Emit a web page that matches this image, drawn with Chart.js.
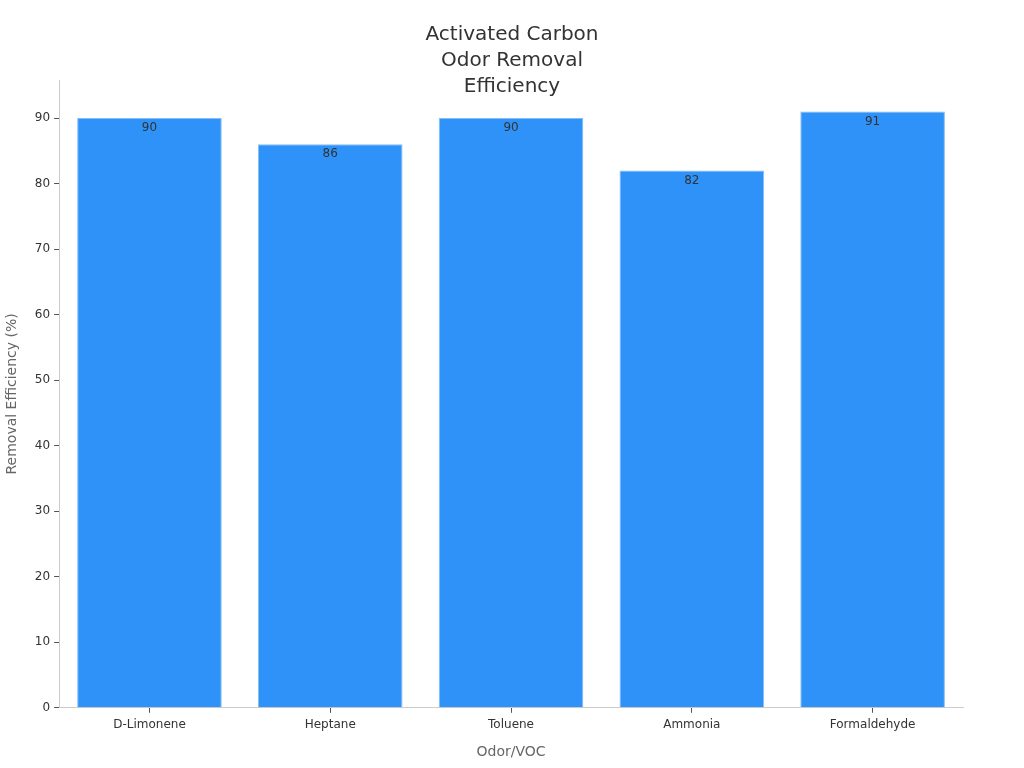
<!DOCTYPE html>
<html>
<head>
<meta charset="utf-8">
<script src="https://cdn.jsdelivr.net/npm/chart.js@4.4.1/dist/chart.umd.min.js"></script>
<style>
  html, body { margin: 0; padding: 0; background: #fff; }
  #wrap { width: 1024px; height: 768px; }
</style>
</head>
<body>
<div id="wrap"><canvas id="chart"></canvas></div>
<script>
'use strict';

// data
const categories = ['D-Limonene', 'Heptane', 'Toluene', 'Ammonia', 'Formaldehyde'];
const efficiency = [90, 86, 90, 82, 91];
const yTicks = [0, 10, 20, 30, 40, 50, 60, 70, 80, 90];

const FONT = "'DejaVu Sans', sans-serif";

// value labels drawn just inside the top of each bar
const barLabels = {
    id: 'barLabels',
    afterDatasetsDraw(chart) {
        const ctx = chart.ctx;
        const meta = chart.getDatasetMeta(0);
        ctx.save();
        ctx.font = '12px ' + FONT;
        ctx.fillStyle = '#333';
        ctx.textAlign = 'center';
        ctx.textBaseline = 'top';
        meta.data.forEach((bar, i) => {
            ctx.fillText(String(efficiency[i]), bar.x, bar.y + 4);
        });
        ctx.restore();
    }
};

// centre the title on the whole canvas, not just the padded area
const titleCentre = {
    id: 'titleCentre',
    afterLayout(chart) {
        if (chart.titleBlock) {
            chart.titleBlock.left = 0;
            chart.titleBlock.right = chart.width;
        }
    }
};

new Chart(document.getElementById('chart'), {
    type: 'bar',
    data: {
        labels: categories,
        datasets: [{
            label: 'Removal Efficiency (%)',
            data: efficiency,
            backgroundColor: '#2f92f8',
            borderColor: '#86bdf8',
            borderWidth: 1,
            categoryPercentage: 1.0,
            barPercentage: 0.8
        }]
    },
    options: {
        responsive: true,
        maintainAspectRatio: false,
        animation: false,
        layout: { padding: { left: 4, right: 61, top: 0, bottom: 7 } },
        plugins: {
            legend: { display: false },
            tooltip: { enabled: false },
            title: {
                display: true,
                text: ['Activated Carbon', 'Odor Removal', 'Efficiency'],
                color: '#333',
                font: { family: FONT, size: 20, weight: 'normal', lineHeight: 1.3 },
                padding: { top: 22, bottom: -20 }
            }
        },
        scales: {
            x: {
                grid: { display: true, offset: false, drawOnChartArea: false, drawTicks: true, tickLength: 5, color: '#555' },
                border: { color: '#ccc' },
                ticks: { color: '#333', font: { family: FONT, size: 12 }, padding: 5 },
                title: {
                    display: true,
                    text: 'Odor/VOC',
                    color: '#666',
                    font: { family: FONT, size: 14 },
                    padding: { top: 7, bottom: 0 }
                }
            },
            y: {
                min: 0,
                max: 95.8,
                afterBuildTicks(axis) {
                    axis.ticks = yTicks.map(v => ({ value: v }));
                },
                grid: { display: true, drawOnChartArea: false, drawTicks: true, tickLength: 5, color: '#555' },
                border: { color: '#ccc' },
                ticks: { color: '#333', font: { family: FONT, size: 12 }, padding: 4 },
                title: {
                    display: true,
                    text: 'Removal Efficiency (%)',
                    color: '#666',
                    font: { family: FONT, size: 14 },
                    padding: { top: 0, bottom: 10 }
                }
            }
        }
    },
    plugins: [barLabels, titleCentre]
});
</script>
</body>
</html>
